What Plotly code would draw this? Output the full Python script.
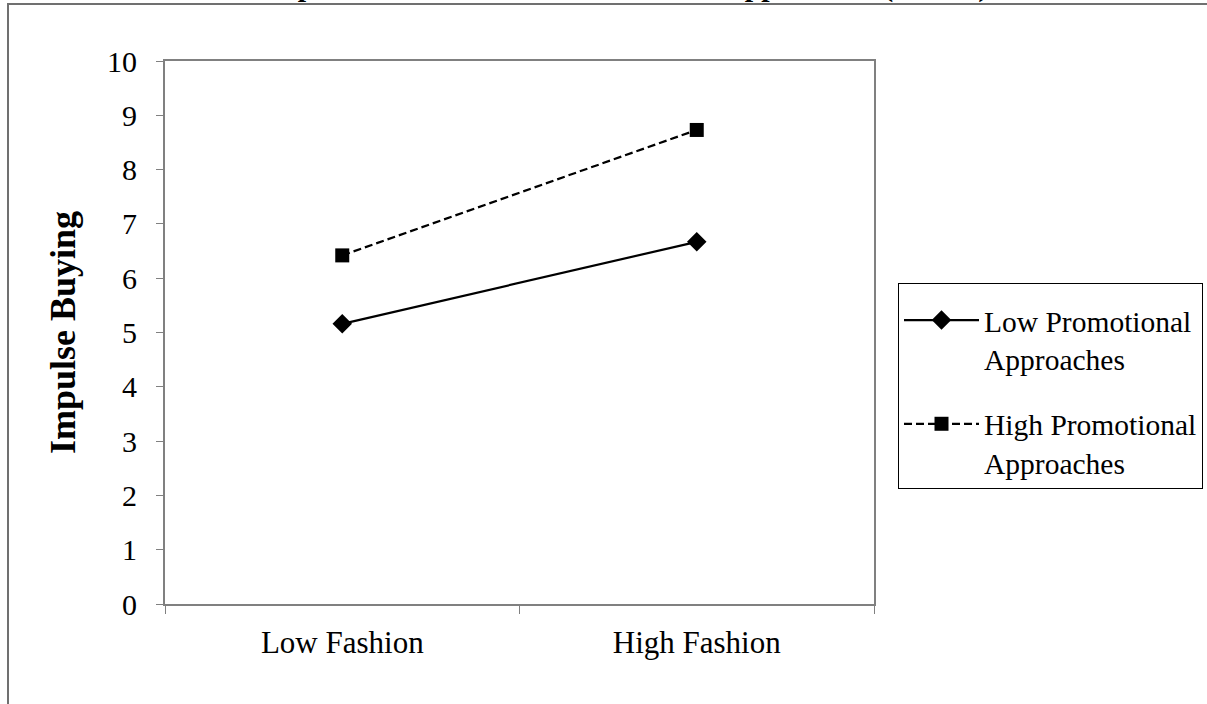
import plotly.graph_objects as go

# Cell means for the 2 x 2 design
fashion_levels = ["Low Fashion", "High Fashion"]
low_promo = [5.16, 6.67]
high_promo = [6.42, 8.73]
series_names = ["Low Promotional<br>Approaches", "High Promotional<br>Approaches"]
y_ticks = list(range(0, 11))

SERIF = "Liberation Serif, Times New Roman, serif"

W, H = 1207, 704
L, R, T, B = 165, 333, 61, 100
plot_w = W - L - R
plot_h = H - T - B


def px_x(px):
    return (px - L) / plot_w


def px_y(py):
    return (H - B - py) / plot_h


fig = go.Figure()

fig.add_trace(go.Scatter(
    x=fashion_levels, y=low_promo, name=series_names[0],
    mode="lines+markers", legendgroup="low",
    line=dict(color="black", width=2.2),
    marker=dict(symbol="diamond", size=15, color="black"),
))
fig.add_trace(go.Scatter(
    x=fashion_levels, y=high_promo, name=series_names[1],
    mode="lines+markers", legendgroup="high",
    line=dict(color="black", width=2.2, dash="8px,4px"),
    marker=dict(symbol="square", size=14, color="black"),
))

axis_line = "#808080"

fig.update_xaxes(
    type="category", range=[-0.5, 1.5],
    tickson="boundaries", ticks="outside", ticklen=8, tickwidth=1,
    tickcolor=axis_line,
    showline=True, linecolor=axis_line, linewidth=2, mirror=True,
    showgrid=False, zeroline=False,
    tickfont=dict(family=SERIF, size=31, color="black"),
    ticklabelstandoff=10,
)
fig.update_yaxes(
    range=[0, 10], tickvals=y_ticks, ticktext=[str(v) for v in y_ticks],
    ticks="outside", ticklen=7, tickwidth=1, tickcolor=axis_line,
    showline=True, linecolor=axis_line, linewidth=2, mirror=True,
    showgrid=False, zeroline=False,
    tickfont=dict(family=SERIF, size=30, color="black"),
    ticklabelstandoff=13,
    title=dict(text="<b>Impulse Buying</b>", standoff=20,
               font=dict(family=SERIF, size=36, color="black")),
)

# Chart heading, sitting above the top edge of the frame
fig.add_annotation(
    text="<b>Impact of Fashion and Promotional Approaches (Means)</b>",
    xref="paper", yref="paper", x=px_x(624), y=px_y(-14),
    xanchor="center", yanchor="middle", showarrow=False,
    font=dict(family=SERIF, size=30, color="black"),
)

# Outer chart frame
fig.add_shape(
    type="rect", xref="paper", yref="paper",
    x0=px_x(8), x1=px_x(1300), y0=px_y(760), y1=px_y(4),
    line=dict(color="#707070", width=2), fillcolor="rgba(0,0,0,0)",
)

fig.update_layout(
    width=W, height=H,
    margin=dict(l=L, r=R, t=T, b=B, autoexpand=False),
    paper_bgcolor="white", plot_bgcolor="white",
    showlegend=True,
    legend=dict(
        x=px_x(898), y=px_y(283), xanchor="left", yanchor="top",
        bordercolor="black", borderwidth=1, bgcolor="white",
        font=dict(family=SERIF, size=29.5, color="black"),
        title=dict(text=" ", font=dict(family=SERIF, size=8)),
        valign="top", tracegroupgap=24, itemwidth=75,
        traceorder="grouped",
    ),
)

fig.write_html("out.html")
